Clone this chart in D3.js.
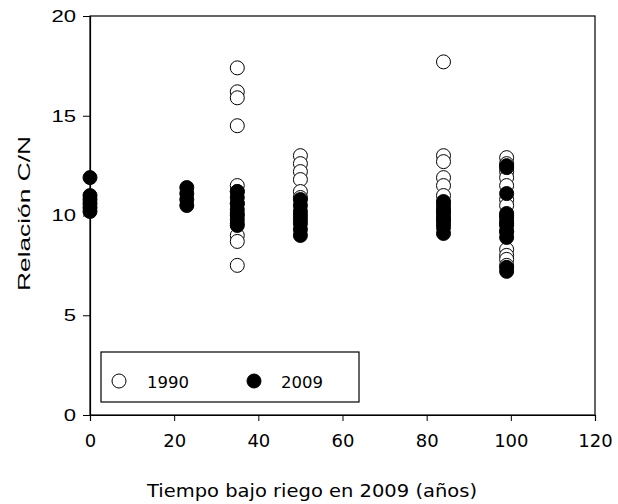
<!DOCTYPE html>
<html><head><meta charset="utf-8">
<script src="https://cdn.jsdelivr.net/npm/d3@7"></script>
<style>body{margin:0;background:#fff}svg{display:block}</style>
</head><body>
<script>
const xTicks = [0, 20, 40, 60, 80, 100, 120];
const yTicks = [0, 5, 10, 15, 20];
const seriesNames = ["1990", "2009"];
// 1990 (open circles): [years, C/N]
const data1990 = [
  [35,17.4],[35,16.2],[35,15.9],[35,14.5],[35,11.5],[35,11.2],[35,10.6],[35,10.1],[35,9.6],[35,9.0],[35,8.7],[35,7.5],
  [50,13.0],[50,12.6],[50,12.2],[50,11.8],[50,11.2],[50,10.9],
  [84,17.7],[84,13.0],[84,12.7],[84,11.9],[84,11.5],[84,11.0],[84,10.6],[84,10.2],[84,9.8],
  [99,12.9],[99,12.6],[99,12.2],[99,11.9],[99,11.5],[99,10.8],[99,10.5],[99,10.0],[99,9.6],[99,9.2],[99,8.3],[99,8.0],[99,7.8],[99,7.5]
];
// 2009 (filled circles)
const data2009 = [
  [0,11.9],[0,11.0],[0,10.8],[0,10.6],[0,10.4],[0,10.2],
  [23,11.4],[23,11.1],[23,10.8],[23,10.5],
  [35,11.2],[35,10.9],[35,10.6],[35,10.3],[35,10.0],[35,9.8],[35,9.5],
  [50,10.8],[50,10.5],[50,10.2],[50,10.0],[50,9.8],[50,9.6],[50,9.3],[50,9.0],
  [84,10.7],[84,10.4],[84,10.2],[84,10.0],[84,9.8],[84,9.6],[84,9.4],[84,9.1],
  [99,12.5],[99,12.4],[99,11.1],[99,10.1],[99,9.9],[99,9.7],[99,9.5],[99,9.2],[99,8.9],[99,7.4],[99,7.2]
];

const W = 618, H = 504;
const m = {l: 90, r: 23, t: 16, b: 89};
const svg = d3.select("body").append("svg").attr("width", W).attr("height", H);
const x = d3.scaleLinear().domain([0, 120]).range([m.l, W - m.r]);
const y = d3.scaleLinear().domain([0, 20]).range([H - m.b, m.t]);
const tickFont = "'DejaVu Sans', Verdana, sans-serif";
const yFont = "'Liberation Sans', Arial, sans-serif";

// frame (top & right)
svg.append("rect").attr("x", x(0)).attr("y", y(20))
  .attr("width", x(120) - x(0)).attr("height", y(0) - y(20))
  .attr("fill", "none").attr("stroke", "#000").attr("stroke-width", 1.2);

const gx = svg.append("g").attr("transform", `translate(0,${y(0)})`)
  .call(d3.axisBottom(x).tickValues(xTicks).tickSize(6).tickPadding(13).tickFormat(d3.format("d")));
gx.select(".domain").attr("stroke", "#000").attr("stroke-width", 1.2);
gx.selectAll("text").attr("font-family", tickFont).attr("font-size", 18).attr("fill", "#000");

const ySx = 1.3;
const gy = svg.append("g").attr("transform", `translate(${x(0)},0)`)
  .call(d3.axisLeft(y).tickValues(yTicks).tickSize(7).tickPadding(6).tickFormat(d3.format("d")));
gy.select(".domain").attr("stroke", "#000").attr("stroke-width", 1.2);
gy.selectAll("text").attr("font-family", yFont).attr("font-size", 17).attr("fill", "#000")
  .attr("x", -14 / ySx).attr("transform", `scale(${ySx},1)`);

svg.append("text").attr("x", 147).attr("y", 497)
  .attr("text-anchor", "start").attr("font-family", tickFont).attr("font-size", 17)
  .attr("textLength", 330).attr("lengthAdjust", "spacingAndGlyphs")
  .text("Tiempo bajo riego en 2009 (años)");
svg.append("text").attr("transform", `translate(30,291) rotate(-90)`)
  .attr("text-anchor", "start").attr("font-family", yFont).attr("font-size", 17)
  .attr("textLength", 155).attr("lengthAdjust", "spacingAndGlyphs")
  .text("Relación C/N");

const r = 7;
svg.append("g").selectAll("circle").data(data1990).join("circle")
  .attr("cx", d => x(d[0])).attr("cy", d => y(d[1])).attr("r", r)
  .attr("fill", "#fff").attr("stroke", "#000").attr("stroke-width", 1);
svg.append("g").selectAll("circle").data(data2009).join("circle")
  .attr("cx", d => x(d[0])).attr("cy", d => y(d[1])).attr("r", r)
  .attr("fill", "#000").attr("stroke", "#000").attr("stroke-width", 1);

// legend
const lg = svg.append("g");
lg.append("rect").attr("x", 101).attr("y", 352).attr("width", 258).attr("height", 50)
  .attr("fill", "#fff").attr("stroke", "#000").attr("stroke-width", 1.2);
const items = [{name: seriesNames[0], fill: "#fff", cx: 119, tx: 147}, {name: seriesNames[1], fill: "#000", cx: 254, tx: 281}];
items.forEach(it => {
  lg.append("circle").attr("cx", it.cx).attr("cy", 381).attr("r", r)
    .attr("fill", it.fill).attr("stroke", "#000").attr("stroke-width", 1);
  lg.append("text").attr("x", it.tx).attr("y", 388).attr("font-family", tickFont)
    .attr("font-size", 16.5).text(it.name);
});
</script>
</body></html>
